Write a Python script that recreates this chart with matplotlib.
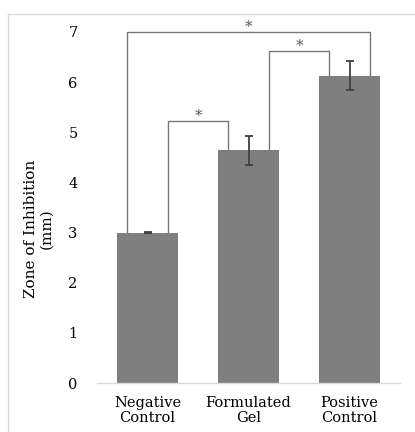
import matplotlib.pyplot as plt
from matplotlib.lines import Line2D

categories = ['Negative\nControl', 'Formulated\nGel', 'Positive\nControl']
means = [3.0, 4.64, 6.13]
errors = [0.01, 0.29, 0.29]
# significance brackets: (left bar, right bar, bracket height)
brackets = [(0, 1, 5.22), (1, 2, 6.62), (0, 2, 7.0)]
yticks = [0, 1, 2, 3, 4, 5, 6, 7]

plt.rcParams['font.family'] = ['DejaVu Serif']

fig = plt.figure(figsize=(4.15, 4.32), dpi=100)
ax = fig.add_axes([0.234, 0.1134, 0.730, 0.8126])

x = list(range(len(categories)))
ax.bar(x, means, width=0.6, color='#7f7f7f', zorder=2)
ax.errorbar(x, means, yerr=errors, fmt='none', ecolor='#404040',
            elinewidth=1.3, capsize=3, capthick=1.3, zorder=3)

off = 0.2
for i, j, h in brackets:
    xl = x[i] + off
    xr = x[j] - off
    if i == 0 and j == 2:
        xl = x[i] - off
        xr = x[j] + off
    ax.plot([xl, xl, xr, xr], [means[i], h, h, means[j]],
            color='#777777', lw=1.0, clip_on=False, zorder=1)
    ax.text((xl + xr) / 2, h - 0.04, '*', ha='center', va='bottom',
            fontsize=11, color='#555555', clip_on=False)

ax.set_xlim(-0.5, 2.5)
ax.set_ylim(0, 7)
ax.set_yticks(yticks)
ax.set_xticks(x)
ax.set_xticklabels(categories, fontsize=10.5, linespacing=1.15)
ax.tick_params(axis='both', length=0, labelsize=10.5, colors='black')
ax.tick_params(axis='y', pad=14)
ax.tick_params(axis='x', pad=9)
for s in ['top', 'right', 'left']:
    ax.spines[s].set_visible(False)
ax.spines['bottom'].set_color('#d9d9d9')
ax.spines['bottom'].set_linewidth(1.0)

ax.set_ylabel('Zone of Inhibition\n(mm)', fontsize=11, linespacing=1.15)
ax.yaxis.set_label_coords(-0.145, 0.44)

# outer chart border (left and top edges visible)
fig.add_artist(Line2D([8 / 415, 8 / 415], [0, 1 - 14 / 432],
                      transform=fig.transFigure, color='#d9d9d9', lw=1))
fig.add_artist(Line2D([8 / 415, 1], [1 - 14 / 432, 1 - 14 / 432],
                      transform=fig.transFigure, color='#d9d9d9', lw=1))

fig.savefig('out.png', dpi=100)
